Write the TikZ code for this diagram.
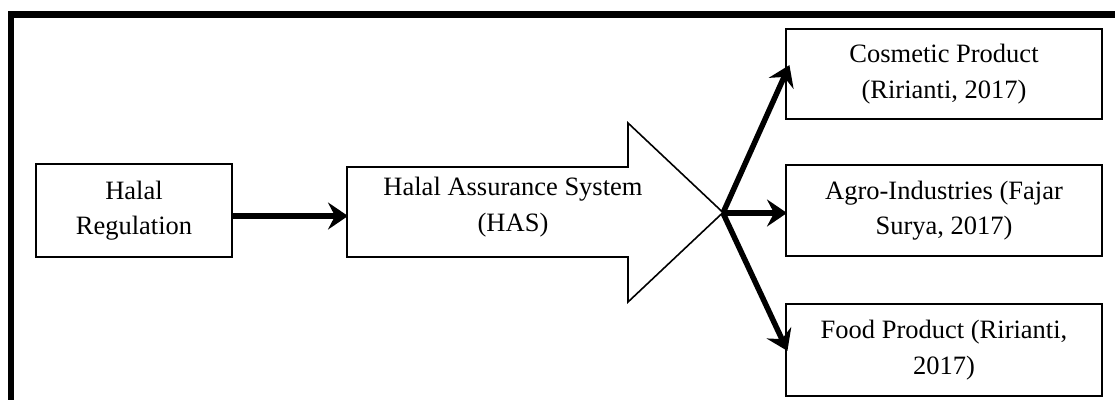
\documentclass[tikz,border=0pt]{standalone}
\usepackage{fontspec}
\setmainfont{Liberation Serif}
\usetikzlibrary{arrows.meta}
\tikzset{
  box/.style={draw, line width=1.8pt, rectangle, align=center, inner sep=0pt,
    font=\fontsize{26.5}{35.5}\selectfont},
  conn/.style={line width=5.5pt, -{Stealth[length=20pt,width=27pt,inset=7pt]}, shorten >=-1pt},
  frame/.style={line width=6.5pt},
  bigarrow/.style={draw, line width=1.6pt, fill=white, line join=miter},
  label/.style={align=center, inner sep=0pt, font=\fontsize{26.5}{35.5}\selectfont}
}
\begin{document}
\begin{tikzpicture}[x=1pt,y=-1pt]
\useasboundingbox (0,0) rectangle (1115,399);
% outer frame
\draw[frame] (11,402) -- (11,14.5) -- (1118,14.5);
% left box
\node[box, minimum width=196pt, minimum height=93pt] (hr) at (134,210.5) {Halal\\Regulation};
% big arrow
\draw[bigarrow] (347,167) -- (628,167) -- (628,123) -- (723,212.5) -- (628,302) -- (628,257) -- (347,257) -- cycle;
\coordinate (hasW) at (347,216);
\coordinate (tip) at (723,213);
\node[label] (has) at (513,207) {Halal Assurance System\\(HAS)};
% right boxes
\node[box, minimum width=316pt, minimum height=90pt] (cos) at (944,74) {Cosmetic Product\\(Ririanti, 2017)};
\node[box, minimum width=316pt, minimum height=91pt] (agro) at (944,210.5) {Agro-Industries (Fajar\\Surya, 2017)};
\node[box, minimum width=316pt, minimum height=92pt] (food) at (944,350) {Food Product (Ririanti,\\2017)};
\coordinate (cosT) at (789,66);
\coordinate (agroT) at (786,213);
\coordinate (foodT) at (787,350);
% connectors
\draw[conn] (hr.east |- hasW) -- (hasW);
\draw[conn] (tip) -- (cosT);
\draw[conn] (tip) -- (agroT);
\draw[conn] (tip) -- (foodT);
\end{tikzpicture}
\end{document}
